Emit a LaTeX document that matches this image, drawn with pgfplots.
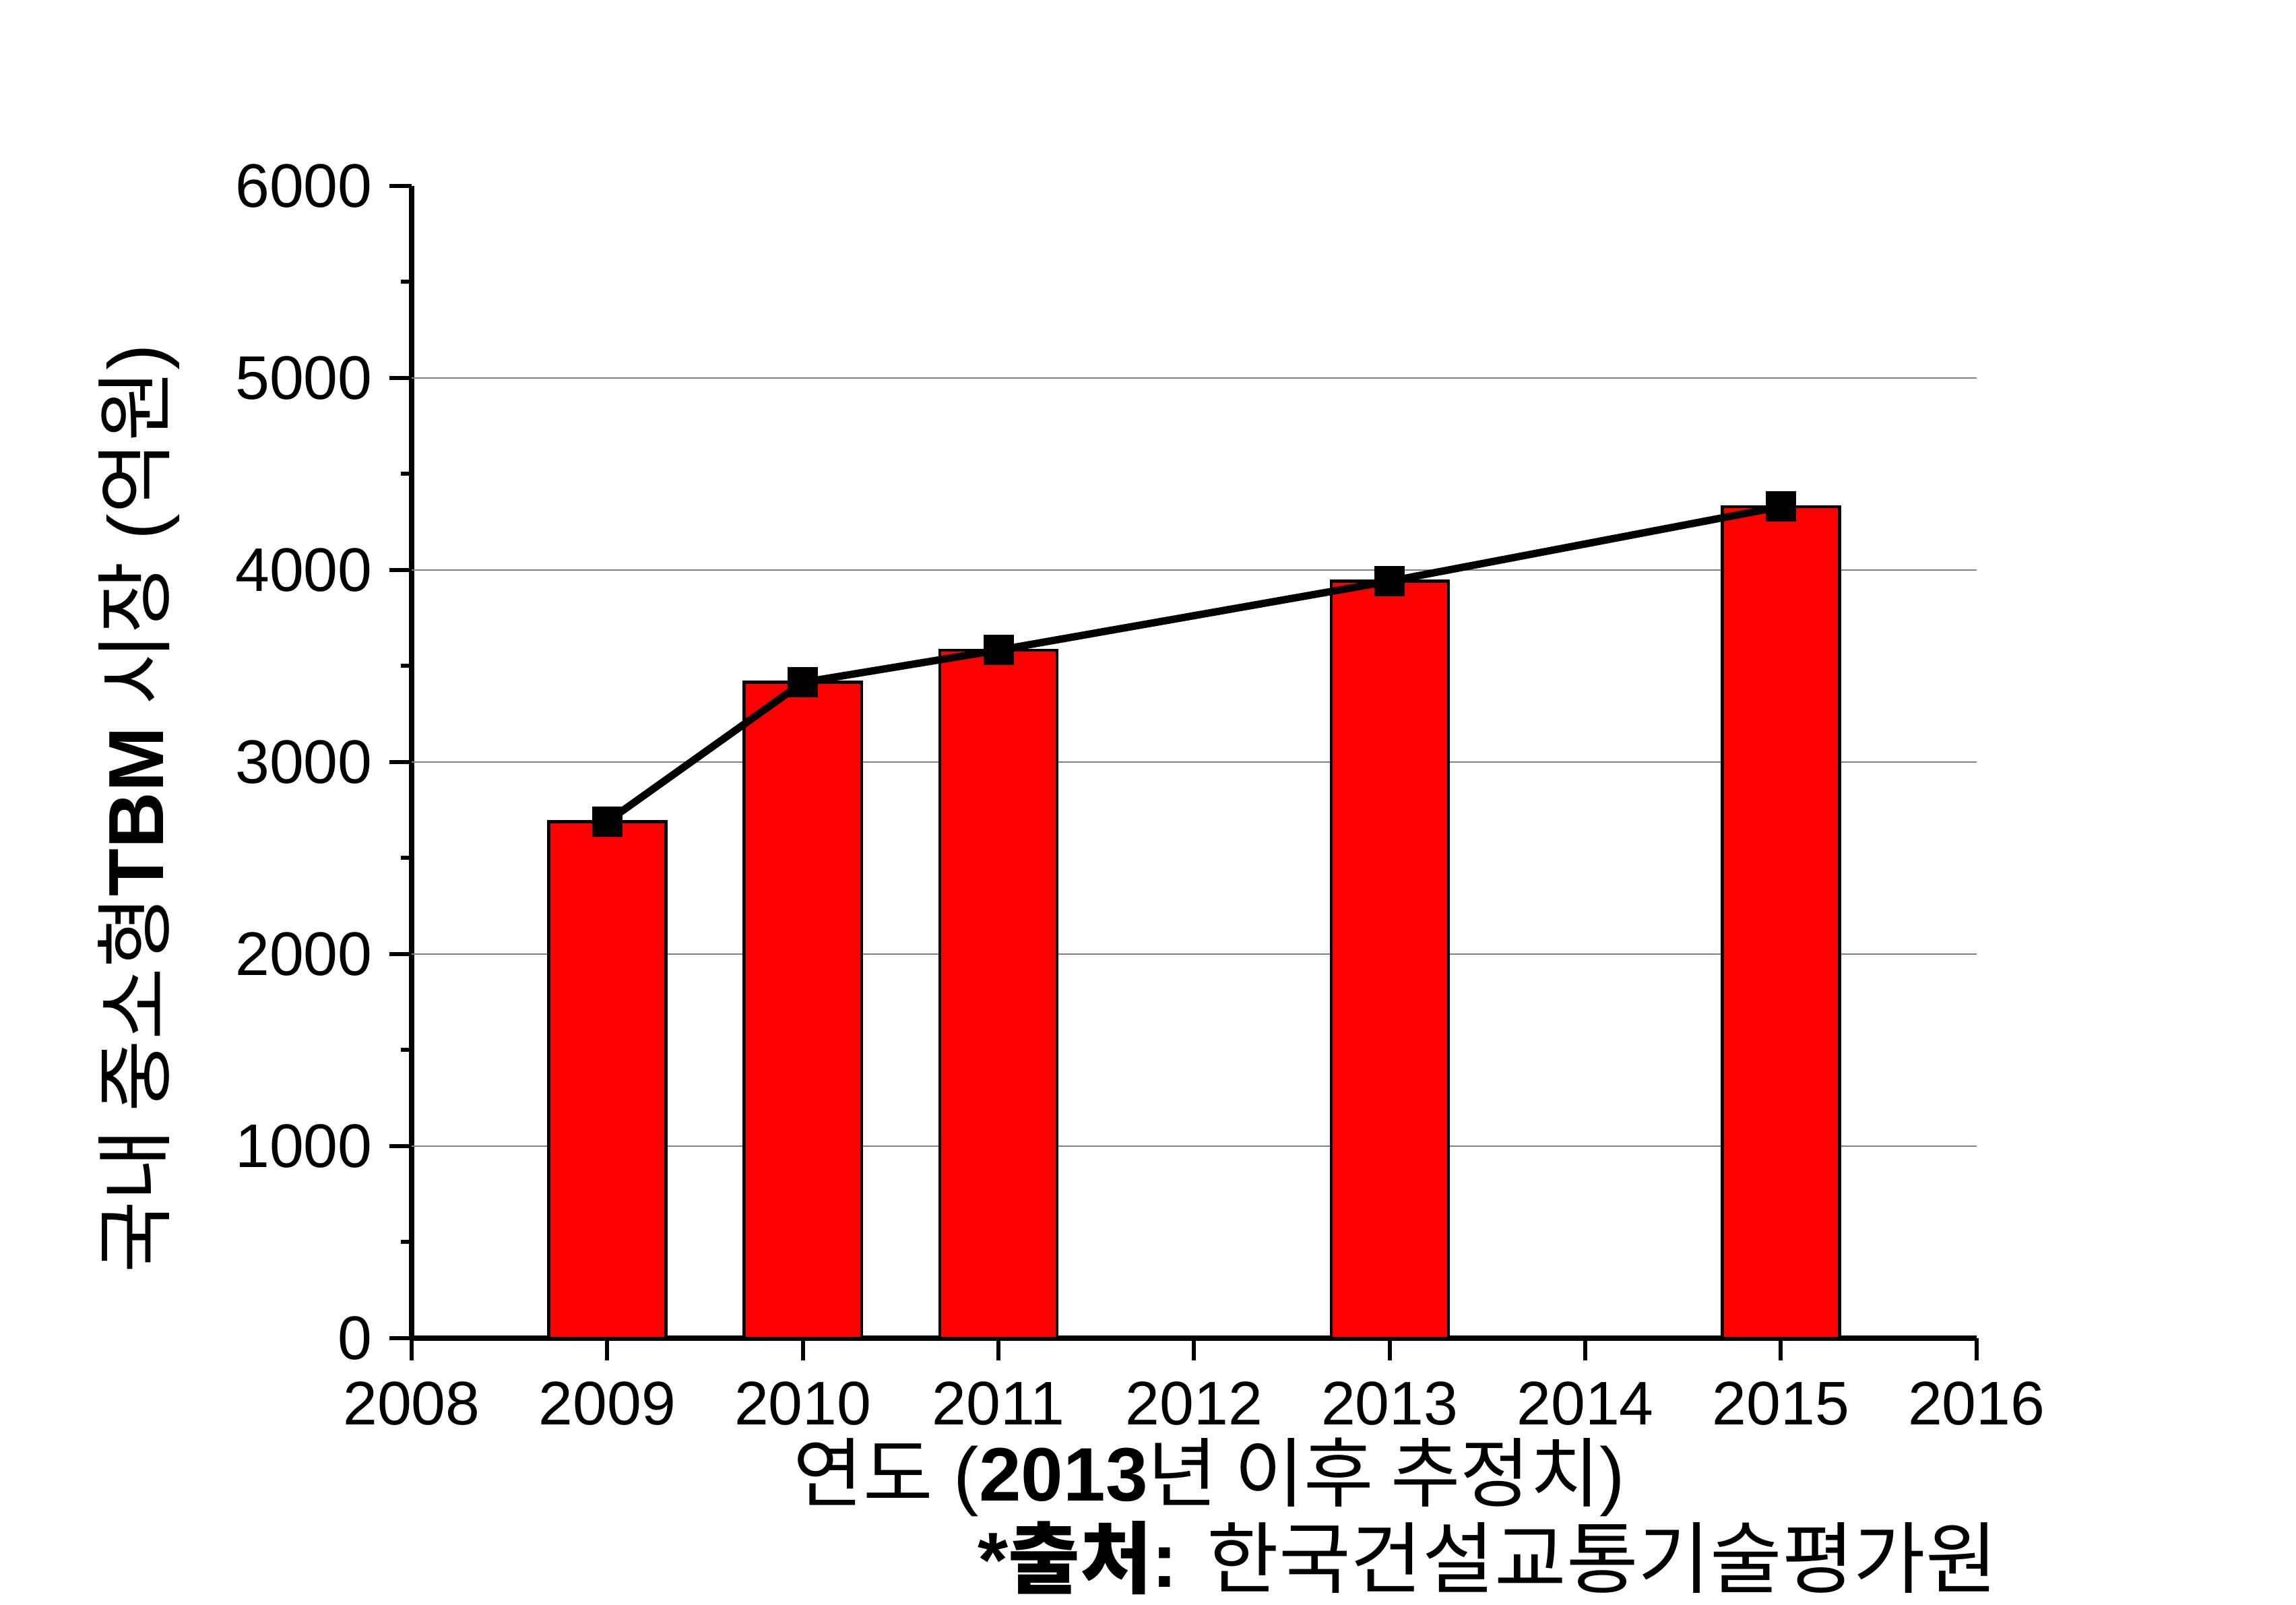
\documentclass[border=0pt]{standalone}
\usepackage{pgfplots}
\pgfplotsset{compat=1.18}
\usepackage{fontspec}
\setmainfont{Liberation Sans}
\newfontfamily\kr{Noto Sans CJK KR}
\begin{document}
\begin{tikzpicture}
\path[use as bounding box] (-61.1mm,-39.6mm) rectangle (279.7mm,198.6mm);
\begin{axis}[
  at={(0,0)}, anchor=south west,
  scale only axis, width=232.3mm, height=171mm,
  xmin=2008, xmax=2016, ymin=0, ymax=6000,
  axis lines=left, axis line style={-, line width=0.75mm},
  xtick={2008,...,2016}, ytick={0,1000,...,6000},
  minor x tick num=1, minor y tick num=1,
  tick align=outside, tick style={line width=0.6mm, black},
  major tick length=3.3mm, minor tick length=1.6mm,
  extra y ticks={1000,2000,3000,4000,5000},
  extra y tick labels={},
  extra y tick style={ymajorgrids=true, major tick length=0pt, major grid style={gray, line width=0.2mm}},
  /pgf/number format/assume math mode=true,
  /pgf/number format/set thousands separator={},
  ticklabel style={font=\fontsize{26}{30}\selectfont},
  yticklabel style={xshift=-1.3mm},
  xticklabel style={yshift=-5.8mm, text height=0.72em, text depth=0pt},
  clip=false,
]
\addplot[ybar, bar width=0.6, fill=red, draw=black, line width=0.45mm] coordinates {
(2009,2690) (2010,3415) (2011,3583) (2013,3942) (2015,4330)
};
\addplot[sharp plot, black, line width=1.1mm, mark=square*, mark size=1.7mm] coordinates {
(2009,2690) (2010,3415) (2011,3583) (2013,3942) (2015,4330)
};
\node[rotate=90, font=\fontsize{33}{40}\selectfont] at (rel axis cs:-0.1743,0.4596)
  {{\kr 국내 중소형}\textbf{TBM} {\kr 시장} ({\kr 억원})};
\node[anchor=base, inner sep=0pt, text height=0.75em, text depth=0.2em, font=\fontsize{32}{40}\selectfont] at (rel axis cs:0.5097,-0.1415)
  {{\kr 연도} (\textbf{2013}{\kr 년 이후 추정치})};
\node[anchor=base east, inner sep=0pt, text height=0.75em, text depth=0.2em, font=\fontsize{33}{40}\selectfont] at (rel axis cs:1.0138,-0.2160)
  {\textbf{*}{\kr\bfseries 출처}\textbf{:} {\kr 한국건설교통기술평가원}};
\end{axis}
\end{tikzpicture}
\end{document}
